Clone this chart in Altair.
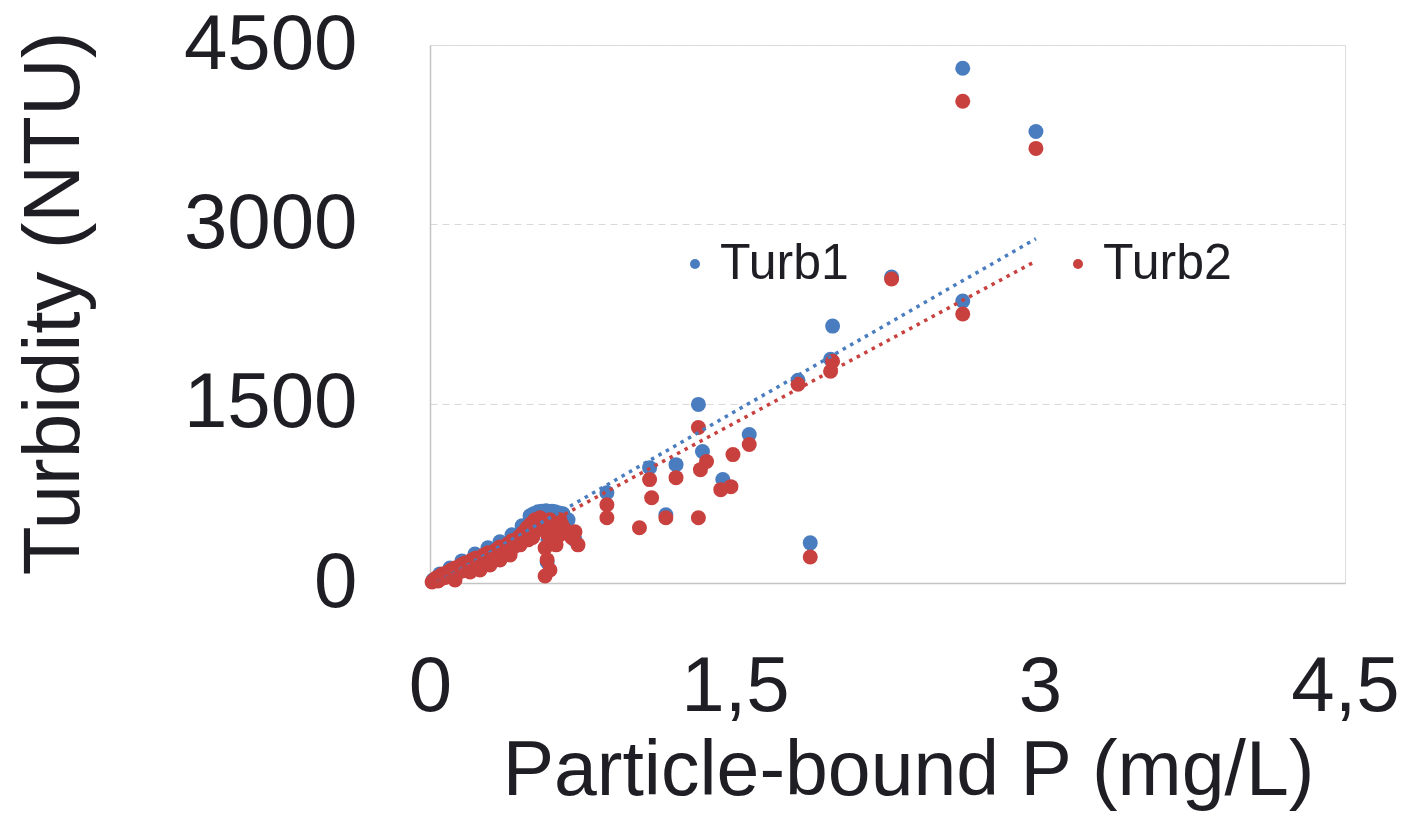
import altair as alt
import pandas as pd

# Turb1 (blue) estimated values: particle-bound P (mg/L), turbidity (NTU)
turb1_x = [2.62, 2.98, 2.62, 1.98, 2.27, 1.81, 1.97, 1.87, 1.32, 1.34, 1.57, 1.21, 1.08, 0.87,
           1.16, 1.44,
           0.015, 0.049, 0.098, 0.157, 0.221, 0.285, 0.344, 0.403, 0.453, 0.492, 0.531, 0.571,
           0.615, 0.654, 0.679, 0.580, 0.576, 0.713, 0.492, 0.510, 0.550, 0.600, 0.635]
turb1_y = [4306, 3777, 2359, 2149, 2560, 1696, 1872, 336, 1494, 1100, 1242, 990, 965, 755,
           571, 865,
           25, 76, 126, 185, 243, 294, 344, 403, 478, 562, 596, 604,
           596, 579, 529, 361, 176, 361, 403, 580, 600, 600, 585]

# Turb2 (red) estimated values
turb2_x = [2.62, 2.98, 2.27, 2.62, 1.97, 1.98, 1.81, 1.87, 1.32, 1.33, 1.36, 1.57, 1.49, 1.48,
           1.43, 1.21, 1.08, 1.09, 0.87, 0.87, 1.03, 1.16, 1.32,
           0.010, 0.020, 0.030, 0.039, 0.049, 0.064, 0.079, 0.089, 0.103, 0.123, 0.138, 0.152,
           0.172, 0.187, 0.207, 0.226, 0.246, 0.266, 0.285, 0.305, 0.325, 0.344, 0.364, 0.384,
           0.403, 0.418, 0.438, 0.457, 0.477, 0.497, 0.516, 0.541, 0.566, 0.590, 0.615, 0.639,
           0.580, 0.566, 0.576, 0.590, 0.566, 0.600, 0.639, 0.664, 0.698, 0.728, 0.713, 0.443,
           0.394, 0.344, 0.295, 0.197, 0.123, 0.246, 0.482, 0.531, 0.620,
           0.040, 0.070, 0.110, 0.145, 0.180, 0.215, 0.255, 0.290, 0.330, 0.370, 0.410, 0.450,
           0.490, 0.520, 0.555, 0.600, 0.650, 0.690, 0.505, 0.470, 0.430, 0.360, 0.310, 0.265,
           0.230, 0.160, 0.090, 0.055]
turb2_y = [4029, 3635, 2543, 2250, 1771, 1855, 1662, 218, 1301, 948, 1016, 1158, 1074, 806,
           781, 881, 865, 713, 655, 546, 462, 546, 546,
           8, 25, 42, 17, 59, 76, 50, 92, 109, 126, 101, 151,
           168, 143, 193, 210, 185, 235, 252, 227, 277, 302, 269, 327,
           353, 311, 386, 420, 462, 495, 529, 546, 512, 529, 495, 529,
           403, 294, 193, 109, 59, 361, 403, 445, 378, 319, 428, 319,
           235, 193, 151, 92, 25, 109, 361, 445, 319,
           20, 45, 70, 95, 125, 160, 190, 215, 245, 290, 300, 350,
           420, 470, 470, 460, 480, 410, 380, 400, 350, 240, 195, 150,
           130, 100, 60, 35]

# Linear trendlines (start and end of each)
trend1_x = [0.0, 2.98]
trend1_y = [-30, 2880]
trend2_x = [0.0, 2.98]
trend2_y = [-30, 2693]

series_names = ["Turb1", "Turb2"]
colors = ["#4a7dbf", "#c8413f"]

FONT = "Liberation Sans"
TXT = "#1e1e24"

pts = pd.DataFrame({
    "x": turb1_x + turb2_x,
    "y": turb1_y + turb2_y,
    "series": ["Turb1"] * len(turb1_x) + ["Turb2"] * len(turb2_x),
})
tr1 = pd.DataFrame({"x": trend1_x, "y": trend1_y})
tr2 = pd.DataFrame({"x": trend2_x, "y": trend2_y})

xscale = alt.Scale(domain=[0, 4.5], nice=False, zero=False)
yscale = alt.Scale(domain=[0, 4500], nice=False, zero=False)

xaxis = alt.Axis(
    values=[0, 1.5, 3, 4.5], format="~g",
    labelExpr="replace(datum.label, '.', ',')",
    grid=False, ticks=False, domainColor="#c4c4c4", domainWidth=1.5,
    labelFont=FONT, labelFontSize=78, labelColor=TXT, labelPadding=127,
    labelBaseline="alphabetic", labelFlush=False, labelOverlap=False,
    title="Particle-bound P (mg/L)", titleFont=FONT, titleFontSize=77,
    titleFontWeight="normal", titleColor=TXT, titleX=478, titleY=211,
    titleBaseline="alphabetic", titleAlign="center",
)
yaxis = alt.Axis(
    values=[0, 1500, 3000, 4500], format="d",
    grid=True, gridColor="#dadada", gridDash=[7, 5], gridWidth=1.2,
    ticks=False, domainColor="#c4c4c4", domainWidth=1.5,
    labelFont=FONT, labelFontSize=78, labelColor=TXT, labelPadding=73,
    labelFlush=False, labelOverlap=False,
    title="Turbidity (NTU)", titleFont=FONT, titleFontSize=80,
    titleFontWeight="normal", titleColor=TXT, titleX=-352, titleY=258,
    titleAngle=270, titleAlign="center", titleBaseline="alphabetic",
)

points = alt.Chart(pts).mark_circle(size=225, opacity=1).encode(
    x=alt.X("x:Q", scale=xscale, axis=xaxis),
    y=alt.Y("y:Q", scale=yscale, axis=yaxis),
    color=alt.Color(
        "series:N",
        scale=alt.Scale(domain=series_names, range=colors),
        legend=alt.Legend(
            title=None, orient="none", legendX=240, legendY=194,
            direction="horizontal", columns=2, columnPadding=204,
            symbolType="circle", symbolSize=100, symbolStrokeWidth=0,
            labelFont=FONT, labelFontSize=50, labelColor=TXT,
            labelOffset=0, labelLimit=400, padding=0,
        ),
    ),
    order=alt.Order("series:N"),
)

line1 = alt.Chart(tr1).mark_line(
    color=colors[0], strokeDash=[3.5, 5], strokeWidth=3.5, strokeCap="butt", clip=True
).encode(x=alt.X("x:Q", scale=xscale), y=alt.Y("y:Q", scale=yscale))
line2 = alt.Chart(tr2).mark_line(
    color=colors[1], strokeDash=[3.5, 5], strokeWidth=3.5, strokeCap="butt", clip=True
).encode(x=alt.X("x:Q", scale=xscale), y=alt.Y("y:Q", scale=yscale))

chart = alt.layer(points, line1, line2).properties(
    width=915, height=538,
    padding={"left": 422, "top": 37, "right": 52, "bottom": 229},
    autosize=alt.AutoSizeParams(type="none"),
).configure_view(stroke=None).configure(background="white")

chart.save("out.html", embed_options={"renderer": "svg", "actions": False})
